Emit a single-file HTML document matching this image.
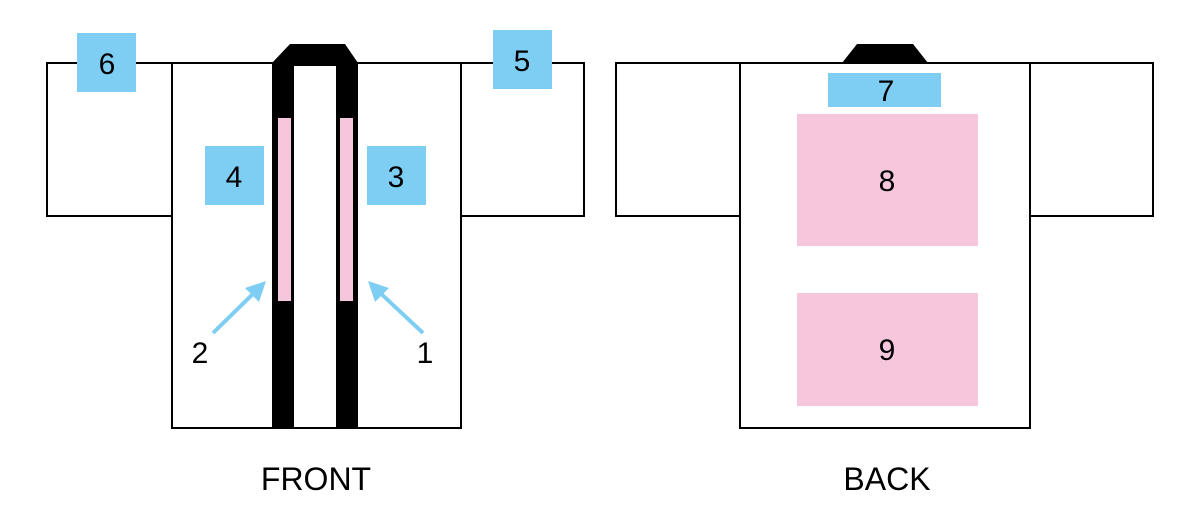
<!DOCTYPE html>
<html><head><style>
body{margin:0;background:#fff;}
svg text{font-family:"Liberation Sans",sans-serif;font-size:30px;fill:#000;}
</style></head><body>
<svg width="1200" height="522" xmlns="http://www.w3.org/2000/svg">
<g fill="#fff" stroke="#000" stroke-width="2">
<rect x="47" y="63" width="125" height="153"/>
<rect x="461" y="63" width="123" height="153"/>
<rect x="172" y="63" width="289" height="365"/>
<rect x="616" y="63" width="124" height="153"/>
<rect x="1030" y="63" width="123" height="153"/>
<rect x="740" y="63" width="290" height="365"/>
</g>
<path d="M272,428 L272,63 L290,44 L345,44 L358,63 L358,428 L336,428 L336,66 L294,66 L294,428 Z" fill="#000"/>
<rect x="278" y="118" width="13" height="183" fill="#f5c6dc"/>
<rect x="340" y="118" width="13" height="183" fill="#f5c6dc"/>
<path d="M842,63 L857,44 L913,44 L928,63 Z" fill="#000"/>
<g fill="#7ecef4">
<rect x="77" y="33" width="59" height="59"/>
<rect x="493" y="30" width="59" height="59"/>
<rect x="205" y="146" width="59" height="59"/>
<rect x="367" y="146" width="59" height="59"/>
<rect x="828" y="73" width="113" height="34"/>
</g>
<rect x="797" y="114" width="181" height="132" fill="#f5c6dc"/>
<rect x="797" y="293" width="181" height="113" fill="#f5c6dc"/>
<g stroke="#7ecef4" stroke-width="4">
<line x1="213" y1="333" x2="258" y2="289"/>
<line x1="423" y1="333" x2="376" y2="289"/>
</g>
<g fill="#7ecef4">
<path d="M266,281 L245,288 L259,302 Z"/>
<path d="M368,281 L389,288 L375,302 Z"/>
</g>
<g text-anchor="middle">
<text x="107" y="74">6</text>
<text x="522" y="71">5</text>
<text x="234" y="187">4</text>
<text x="396" y="187">3</text>
<text x="200" y="363">2</text>
<text x="425" y="363">1</text>
<text x="886" y="101">7</text>
<text x="887" y="191">8</text>
<text x="887" y="360">9</text>
<text x="316" y="490" style="font-size:32px">FRONT</text>
<text x="887" y="490" style="font-size:32px">BACK</text>
</g>
</svg>
</body></html>
